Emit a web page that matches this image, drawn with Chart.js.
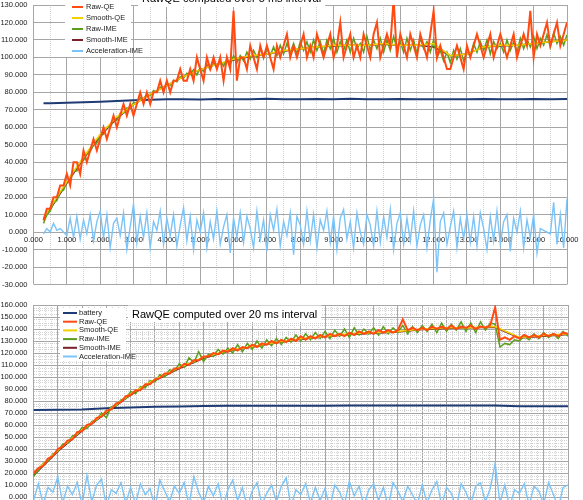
<!DOCTYPE html>
<html>
<head>
<meta charset="utf-8">
<script src="https://cdn.jsdelivr.net/npm/chart.js@4.4.1/dist/chart.umd.min.js"></script>
<style>
html, body { margin: 0; padding: 0; background: #fff; overflow: hidden; }
body { width: 583px; height: 500px; position: relative; }
#topWrap { position: absolute; left: 0; top: -30px; width: 583px; height: 325px; }
#bottomWrap { position: absolute; left: 0; top: 290px; width: 583px; height: 260px; }
</style>
</head>
<body>
<div id="topWrap"><canvas id="chartTop"></canvas></div>
<div id="bottomWrap"><canvas id="chartBottom"></canvas></div>
<script>
// Series names (legend order)
const SERIES_NAMES = ['battery', 'Raw-QE', 'Smooth-QE', 'Raw-IME', 'Smooth-IME', 'Acceleration-IME'];

// ---- Top chart: RawQE over 5 ms ----
const TOP_TITLE = 'RawQE computed over 5 ms interval';
const TOP_TIME = [
    0.3, 0.4, 0.5, 0.6, 0.7, 0.8, 0.9, 1.0, 1.1, 1.2,
    1.3, 1.4, 1.5, 1.6, 1.7, 1.8, 1.9, 2.0, 2.1, 2.2,
    2.3, 2.4, 2.5, 2.6, 2.7, 2.8, 2.9, 3.0, 3.1, 3.2,
    3.3, 3.4, 3.5, 3.6, 3.7, 3.8, 3.9, 4.0, 4.1, 4.2,
    4.3, 4.4, 4.5, 4.6, 4.7, 4.8, 4.9, 5.0, 5.1, 5.2,
    5.3, 5.4, 5.5, 5.6, 5.7, 5.8, 5.9, 6.0, 6.1, 6.2,
    6.3, 6.4, 6.5, 6.6, 6.7, 6.8, 6.9, 7.0, 7.1, 7.2,
    7.3, 7.4, 7.5, 7.6, 7.7, 7.8, 7.9, 8.0, 8.1, 8.2,
    8.3, 8.4, 8.5, 8.6, 8.7, 8.8, 8.9, 9.0, 9.1, 9.2,
    9.3, 9.4, 9.5, 9.6, 9.7, 9.8, 9.9, 10.0, 10.1, 10.2,
    10.3, 10.4, 10.5, 10.6, 10.7, 10.8, 10.9, 11.0, 11.1, 11.2,
    11.3, 11.4, 11.5, 11.6, 11.7, 11.8, 11.9, 12.0, 12.1, 12.2,
    12.3, 12.4, 12.5, 12.6, 12.7, 12.8, 12.9, 13.0, 13.1, 13.2,
    13.3, 13.4, 13.5, 13.6, 13.7, 13.8, 13.9, 14.0, 14.1, 14.2,
    14.3, 14.4, 14.5, 14.6, 14.7, 14.8, 14.9, 15.0, 15.1, 15.2,
    15.3, 15.4, 15.5, 15.6, 15.7, 15.8, 15.9, 16.0
];
const TOP_TIME_SMOOTH = [0.3, 0.5, 1, 1.5, 2, 2.5, 3, 3.5, 4, 4.5, 5, 5.5, 6, 6.5, 7, 7.5, 8, 8.5, 9, 9.5, 10, 10.5, 11, 11.5, 12, 12.5, 13, 13.5, 14, 14.5, 15, 15.5, 16];

const TOP_BATTERY = [73.7, 73.8, 74.0, 74.3, 74.6, 75.0, 75.5, 75.8, 76.0, 76.1, 75.9, 76.2, 76.0, 76.1, 76.3, 76.0, 76.1, 76.2, 76.0, 76.3, 76.1, 76.0, 76.2, 76.1, 76.0, 76.1, 76.0, 76.2, 76.1, 76.0, 76.2, 76.0, 76.2];
const TOP_RAW_QE = [
    6.7, 13.3, 13.3, 20, 20, 26.7, 26.7, 33.3, 26.7, 40,
    40, 33.3, 46.7, 40, 46.7, 53.3, 46.7, 53.3, 60, 53.3,
    60, 66.7, 60, 66.7, 73.3, 66.7, 73.3, 66.7, 73.3, 80,
    73.3, 80, 73.3, 80, 80, 86.7, 80, 86.7, 80, 86.7,
    86.7, 93.3, 86.7, 86.7, 93.3, 86.7, 100, 93.3, 86.7, 100,
    93.3, 100, 93.3, 100, 86.7, 100, 93.3, 126.7, 86.7, 100,
    100, 93.3, 106.7, 100, 93.3, 106.7, 100, 106.7, 100, 93.3,
    106.7, 100, 106.7, 113.3, 100, 106.7, 100, 106.7, 113.3, 100,
    106.7, 100, 113.3, 106.7, 100, 106.7, 113.3, 100, 106.7, 120,
    100, 106.7, 113.3, 100, 106.7, 100, 113.3, 106.7, 100, 113.3,
    120, 100, 106.7, 113.3, 106.7, 133.3, 100, 113.3, 106.7, 100,
    113.3, 106.7, 100, 113.3, 106.7, 100, 113.3, 126.7, 100, 106.7,
    100, 93.3, 93.3, 100, 106.7, 100, 93.3, 106.7, 100, 106.7,
    113.3, 106.7, 100, 106.7, 113.3, 100, 106.7, 113.3, 106.7, 100,
    106.7, 113.3, 100, 106.7, 113.3, 106.7, 126.7, 100, 113.3, 106.7,
    113.3, 120, 106.7, 113.3, 120, 106.7, 113.3, 120
];
const TOP_SMOOTH_QE = [8, 14, 29, 43, 56, 66, 73, 79, 84, 89, 93, 96, 99, 101, 102, 104, 105, 106, 107, 107, 107, 108, 107, 107, 108, 101, 102, 106, 107, 107, 108, 109, 110];
const TOP_RAW_IME = [
    5, 10, 12, 17, 18, 23, 24, 29, 30, 35,
    35, 40, 41, 45, 46, 50, 51, 55, 56, 60,
    60, 64, 64, 68, 68, 71, 71, 74, 74, 77,
    76, 79, 78, 81, 80, 83, 82, 85, 84, 87,
    86, 89, 88, 91, 90, 93, 90, 94, 92, 96,
    93, 97, 94, 98, 95, 99, 96, 101, 97, 101,
    98, 103, 99, 104, 100, 105, 100, 105, 101, 106,
    101, 107, 102, 108, 103, 108, 102, 109, 104, 109,
    103, 110, 104, 109, 102, 110, 105, 111, 103, 109,
    104, 110, 103, 111, 105, 108, 103, 112, 104, 110,
    105, 111, 103, 110, 104, 112, 105, 109, 103, 111,
    104, 110, 102, 111, 105, 109, 103, 110, 100, 104,
    98, 103, 97, 104, 99, 105, 98, 103, 101, 108,
    103, 109, 104, 110, 102, 109, 105, 108, 103, 110,
    104, 109, 103, 111, 105, 110, 106, 112, 105, 111,
    107, 113, 106, 114, 108, 112, 107, 113
];
const TOP_SMOOTH_IME = [7, 13, 28, 42, 55, 65, 73, 79, 84, 89, 93, 96, 98.5, 100.5, 102, 103.5, 105, 106, 106.5, 107, 107, 107.5, 107, 107, 106, 101, 102, 106, 106.5, 107, 108, 109, 110];
const TOP_ACCEL = [
    -1, 2, 0, 5, 1, 2, 0, -2, 8, -3,
    9, -4, 7, -1, 10, -5, 6, 12, -3, 10,
    -9, 5, 8, -2, 11, -10, 3, 16, -6, 9,
    -3, 11, -9, 6, 1, 12, -7, 8, -2, 10,
    -8, 4, 14, -5, 9, -10, 7, 0, 11, -9,
    6, -4, 12, -7, 3, 10, -12, 8, -3, 11,
    -6, 9, 2, -9, 12, -4, 7, -11, 10, 1,
    13, -8, 6, -2, 11, -13, 9, 4, -7, 12,
    -5, 10, -9, 7, 1, 12, -6, 9, -10, 8,
    13, -4, 6, -9, 11, 0, -7, 10, 4, -8,
    12, -6, 9, -3, 13, -10, 5, 11, -7, 8,
    -5, 12, -8, 4, 10, -9, 7, 19, -23, 6,
    11, -7, 3, 12, -9, 8, -4, 10, -6, 9,
    -8, 11, 2, -10, 9, -5, 12, -7, 6, 10,
    -11, 8, 0, 12, -9, 7, -3, 10, -12, 2,
    1, 0, -1, 17, -7, 10, -9, 19
];

// ---- Bottom chart: RawQE over 20 ms ----
const BOTTOM_TITLE = 'RawQE computed over 20 ms interval';
const BOTTOM_TIME = [
    0, 0.2, 0.4, 0.6, 0.8, 1.0, 1.2, 1.4, 1.6, 1.8,
    2.0, 2.2, 2.4, 2.6, 2.8, 3.0, 3.2, 3.4, 3.6, 3.8,
    4.0, 4.2, 4.4, 4.6, 4.8, 5.0, 5.2, 5.4, 5.6, 5.8,
    6.0, 6.2, 6.4, 6.6, 6.8, 7.0, 7.2, 7.4, 7.6, 7.8,
    8.0, 8.2, 8.4, 8.6, 8.8, 9.0, 9.2, 9.4, 9.6, 9.8,
    10.0, 10.2, 10.4, 10.6, 10.8, 11.0, 11.2, 11.4, 11.6, 11.8,
    12.0, 12.2, 12.4, 12.6, 12.8, 13.0, 13.2, 13.4, 13.6, 13.8,
    14.0, 14.2, 14.4, 14.6, 14.8, 15.0, 15.2, 15.4, 15.6, 15.8,
    16.0, 16.2, 16.4, 16.6, 16.8, 17.0, 17.2, 17.4, 17.6, 17.8,
    18.0, 18.2, 18.4, 18.6, 18.8, 19.0, 19.2, 19.4, 19.6, 19.8,
    20.0, 20.2, 20.4, 20.6, 20.8, 21.0, 21.2, 21.4, 21.6, 21.8,
    22.0
];
const BOTTOM_TIME_SMOOTH = [0, 1, 2, 3, 4, 5, 6, 7, 8, 9, 10, 11, 12, 13, 14, 15, 16, 17, 18, 19, 20, 21, 22];

const BOTTOM_BATTERY = [72.5, 72.7, 73.0, 74.0, 74.6, 75.2, 75.5, 75.8, 76.0, 76.0, 76.1, 76.1, 76.1, 76.2, 76.2, 76.2, 76.2, 76.2, 76.2, 76.2, 75.7, 75.7, 75.7];
const BOTTOM_RAW_QE = [
    20, 24, 26, 32, 34, 40, 42, 47, 48, 54,
    55, 60, 61, 66, 67, 72, 73, 78, 79, 84,
    85, 89, 89, 94, 94, 98, 99, 103, 103, 107,
    107, 111, 110, 114, 114, 117, 117, 120, 119, 122,
    121, 124, 122, 125, 124, 127, 125, 128, 127, 130,
    128, 131, 129, 132, 130, 134, 131, 134, 132, 135,
    133, 136, 134, 136, 134, 137, 135, 138, 136, 138,
    136, 139, 137, 139, 137, 139, 148, 139, 141, 139,
    141, 139, 142, 140, 142, 140, 143, 140, 142, 141,
    143, 140, 142, 141, 143, 158, 131, 133, 131, 134,
    132, 135, 133, 135, 133, 136, 134, 136, 134, 137,
    136
];
const BOTTOM_SMOOTH_QE = [20, 39, 56, 71, 86, 98, 108, 116.5, 122, 125.5, 129, 132, 134, 136, 137, 138, 140, 141, 141, 142, 133, 134.5, 136];
const BOTTOM_RAW_IME = [
    17, 22, 28, 30, 36, 38, 44, 45, 51, 52,
    58, 57, 63, 64, 70, 66, 75, 76, 81, 82,
    88, 86, 92, 91, 97, 96, 102, 100, 106, 105,
    111, 108, 116, 112, 121, 113, 119, 117, 123, 119,
    124, 120, 127, 121, 128, 123, 130, 124, 131, 126,
    132, 127, 133, 129, 135, 130, 136, 131, 137, 132,
    138, 132, 139, 134, 140, 133, 141, 135, 140, 136,
    141, 135, 142, 136, 141, 137, 143, 136, 142, 137,
    143, 138, 144, 137, 145, 138, 144, 139, 146, 138,
    145, 137, 146, 139, 145, 144, 125, 128, 127, 131,
    130, 134, 131, 136, 132, 137, 133, 136, 132, 138,
    134
];
const BOTTOM_SMOOTH_IME = [18, 38, 55, 70, 85, 97, 107, 115.5, 121.5, 125, 128.5, 131.5, 133.5, 135.5, 136.5, 137.5, 139.5, 140.5, 141, 141.5, 132.5, 134, 135.5];
const BOTTOM_ACCEL = [
    -3, 11, -6, 8, 4, 17, -5, 9, 2, 12,
    -7, 18, -4, 10, 15, -8, 6, 3, 12, -5,
    8, -6, 11, 2, 7, -9, 14, 5, -4, 9,
    3, 12, -7, 17, 4, -5, 9, 1, 11, -8,
    6, 14, -3, 8, -9, 5, 12, -6, 3, 10,
    -4, 9, 16, -8, 6, 2, 11, -5, 8, -3,
    7, -9, 10, 4, -6, 13, 1, 9, -7, 6,
    11, -3, 8, -8, 12, 5, -4, 9, 2, -6,
    10, -5, 6, 13, -7, 8, 3, -9, 11, 4,
    -6, 9, 12, -4, 7, 28, -5, 10, -8, 6,
    3, 11, -7, 9, 5, -6, 12, 2, -9, 8,
    10
];

// ---- styles ----
const COLORS = ['#1F3B73', '#FF4A12', '#F2D000', '#5A9E1C', '#7A1E28', '#7CC4F8'];
const WIDTHS = [2, 2, 1.5, 1.5, 1.5, 1.4];
const DRAW_ORDER = [4, 0, 1, 2, 3, 5];
const FONT_FAMILY = "'Liberation Sans', Arial, sans-serif";
const TICK_FONT = { family: FONT_FAMILY, size: 7.5 };
const GRID_MAJOR = '#A6A6A6';
const GRID_MINOR = '#D2D2D2';

function isWhole(v) {
    return Math.abs(v - Math.round(v)) < 1e-6;
}

function pairs(times, values) {
    return times.map((t, i) => ({ x: t, y: values[i] }));
}

function makeDatasets(series) {
    return series.map((s, i) => ({
        label: SERIES_NAMES[i],
        data: pairs(s[0], s[1]),
        borderColor: COLORS[i],
        backgroundColor: COLORS[i],
        borderWidth: WIDTHS[i],
        pointRadius: 0,
        tension: 0,
        fill: false,
        order: DRAW_ORDER[i]
    }));
}

// Title + legend drawn inside the plot, like the spreadsheet original
const overlayPlugin = {
    id: 'overlay',
    afterDatasetsDraw(chart, args, opts) {
        const ctx = chart.ctx;
        ctx.save();
        ctx.textBaseline = 'middle';

        ctx.font = '11px ' + FONT_FAMILY;
        const tw = ctx.measureText(opts.title).width;
        ctx.fillStyle = '#fff';
        ctx.fillRect(opts.titleX - 4, opts.titleBoxTop, tw + 8, opts.titleBoxBottom - opts.titleBoxTop);
        ctx.fillStyle = '#000';
        ctx.fillText(opts.title, opts.titleX, opts.titleY);

        const n = chart.data.datasets.length;
        ctx.fillStyle = '#fff';
        ctx.fillRect(opts.legendX, opts.legendTop, opts.legendW, opts.legendH);
        ctx.font = opts.legendFont + 'px ' + FONT_FAMILY;
        for (let i = 0; i < n; i++) {
            const ds = chart.data.datasets[i];
            const y = opts.firstRow + i * opts.rowH;
            ctx.strokeStyle = ds.borderColor;
            ctx.lineWidth = 2;
            ctx.beginPath();
            ctx.moveTo(opts.lineX0, y);
            ctx.lineTo(opts.lineX1, y);
            ctx.stroke();
            ctx.fillStyle = '#222';
            ctx.fillText(ds.label, opts.textX, y);
        }
        ctx.restore();
    }
};

function makeScales(xMax, xStep, yMin, yMax, yStep) {
    return {
        x: {
            type: 'linear',
            min: 0,
            max: xMax,
            position: { y: 0 },
            ticks: {
                stepSize: xStep,
                autoSkip: false,
                maxRotation: 0,
                padding: 3,
                font: TICK_FONT,
                color: '#222',
                callback: v => isWhole(v) ? Number(v).toFixed(3) : ''
            },
            grid: {
                drawTicks: false,
                lineWidth: 1,
                color: c => (c.tick && isWhole(c.tick.value)) ? GRID_MAJOR : GRID_MINOR
            },
            border: {
                display: false,
                dash: c => (c.tick && !isWhole(c.tick.value)) ? [1, 1] : []
            }
        },
        y: {
            type: 'linear',
            min: yMin,
            max: yMax,
            ticks: {
                stepSize: yStep,
                autoSkip: false,
                padding: 6,
                font: TICK_FONT,
                color: '#222',
                callback: v => isWhole(v / 10) ? Number(v).toFixed(3) : ''
            },
            grid: {
                drawTicks: false,
                lineWidth: 1,
                color: c => (c.tick && isWhole(c.tick.value / 10)) ? GRID_MAJOR : GRID_MINOR
            },
            border: {
                display: false,
                dash: c => (c.tick && !isWhole(c.tick.value / 10)) ? [1, 1] : []
            },
            afterFit: s => { s.width = 33.5; }
        }
    };
}

const topChart = new Chart(document.getElementById('chartTop'), {
    type: 'line',
    data: {
        datasets: makeDatasets([
            [TOP_TIME_SMOOTH, TOP_BATTERY],
            [TOP_TIME, TOP_RAW_QE],
            [TOP_TIME_SMOOTH, TOP_SMOOTH_QE],
            [TOP_TIME, TOP_RAW_IME],
            [TOP_TIME_SMOOTH, TOP_SMOOTH_IME],
            [TOP_TIME, TOP_ACCEL]
        ])
    },
    options: {
        responsive: true,
        maintainAspectRatio: false,
        animation: false,
        layout: { padding: { top: 35, right: 16, bottom: 7.5, left: 0 } },
        plugins: {
            legend: { display: false },
            tooltip: { enabled: false },
            overlay: {
                title: TOP_TITLE, titleX: 142, titleY: 29, titleBoxTop: 18, titleBoxBottom: 37,
                legendX: 65, legendTop: 18, legendW: 66, legendH: 69, legendFont: 7.5,
                firstRow: 26, rowH: 11, lineX0: 72, lineX1: 83, textX: 86
            }
        },
        scales: makeScales(16, 0.5, -30, 130, 10)
    },
    plugins: [overlayPlugin]
});

const bottomChart = new Chart(document.getElementById('chartBottom'), {
    type: 'line',
    data: {
        datasets: makeDatasets([
            [BOTTOM_TIME_SMOOTH, BOTTOM_BATTERY],
            [BOTTOM_TIME, BOTTOM_RAW_QE],
            [BOTTOM_TIME_SMOOTH, BOTTOM_SMOOTH_QE],
            [BOTTOM_TIME, BOTTOM_RAW_IME],
            [BOTTOM_TIME_SMOOTH, BOTTOM_SMOOTH_IME],
            [BOTTOM_TIME, BOTTOM_ACCEL]
        ])
    },
    options: {
        responsive: true,
        maintainAspectRatio: false,
        animation: false,
        layout: { padding: { top: 15, right: 15, bottom: 17, left: 0 } },
        plugins: {
            legend: { display: false },
            tooltip: { enabled: false },
            overlay: {
                title: BOTTOM_TITLE, titleX: 132, titleY: 25, titleBoxTop: 15.5, titleBoxBottom: 32,
                legendX: 60, legendTop: 18, legendW: 66, legendH: 53, legendFont: 7.5,
                firstRow: 23, rowH: 8.7, lineX0: 63, lineX1: 77, textX: 79
            }
        },
        scales: makeScales(22, 0.25, -30, 160, 2.5)
    },
    plugins: [overlayPlugin]
});
</script>
</body>
</html>
